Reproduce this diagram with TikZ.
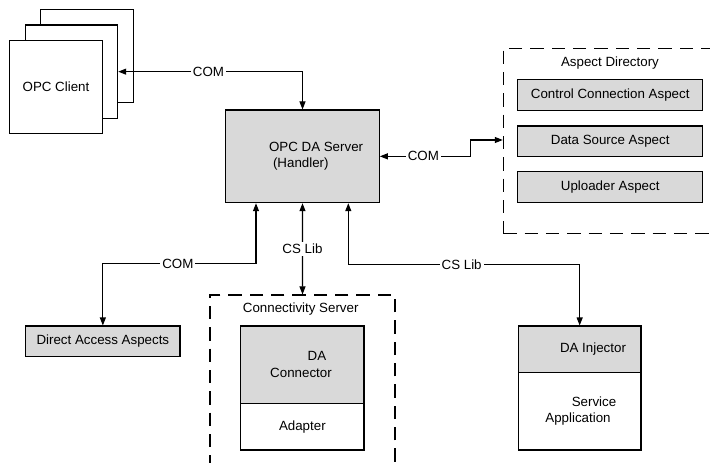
\documentclass[tikz,border=0pt]{standalone}
\usepackage{fontspec}
\setmainfont{Liberation Sans}
\usetikzlibrary{arrows.meta,fit,calc}
\begin{document}
\begin{tikzpicture}[x=0.75pt,y=-0.75pt,
  font=\fontsize{10}{12}\selectfont,
  line width=0.8pt,
  box/.style={draw, fill=white, inner sep=0pt},
  shaded/.style={draw, fill=gray!30, inner sep=0pt},
  group/.style={draw, dash pattern=on 10pt off 6pt, inner sep=0pt},
  link/.style={{Triangle[length=6pt,width=4.5pt]}-{Triangle[length=6pt,width=4.5pt]}},
  tag/.style={fill=white, inner sep=1.5pt},
  txt/.style={inner sep=0pt, align=left}]
\clip (0,0) rectangle (710,463);

% stacked OPC clients
\node[box, fit={(40.7,9.3) (133.3,102.7)}] (client3) {};
\node[box, fit={(25.3,25) (117.7,118.3)}] (client2) {};
\node[box, fit={(9.3,40.7) (102.7,133.3)}] (client) {};
\node[txt] at (client.center) {OPC Client};

% OPC DA server
\node[shaded, fit={(225.7,110) (379.3,202.7)}] (srv) {};
\node[txt, anchor=west] at (268.5,156) {OPC DA Server\\\hspace*{3pt}(Handler)};

% aspect directory
\node[group, fit={(503.3,48.3) (740,233.8)}] (aspdir) {};
\node[txt] at (610,63.3) {Aspect Directory};
\node[shaded, fit={(517.7,79.3) (702.7,110.7)}] (ctrl) {};
\node[txt] at (ctrl.center) {Control Connection Aspect};
\node[shaded, fit={(517.7,126) (702.7,156.7)}] (dsrc) {};
\node[txt] at (dsrc.center) {Data Source Aspect};
\node[shaded, fit={(517.7,171.7) (702.7,202.7)}] (upl) {};
\node[txt] at (upl.center) {Uploader Aspect};

% direct access aspects
\node[shaded, fit={(25.7,326) (180,356.7)}] (daa) {};
\node[txt] at (daa.center) {Direct Access Aspects};

% connectivity server
\node[group, fit={(210,295) (395,490)}] (cs) {};
\node[txt] at (300.7,309.3) {Connectivity Server};
\node[shaded, fit={(240.7,326) (364,403.3)}] (dacon) {};
\node[txt] at (317,356) {DA};
\node[txt] at (301,372.7) {Connector};
\node[box, fit={(240.7,403.3) (364,450)}] (adapter) {};
\node[txt] at (adapter.center) {Adapter};

% service application with DA injector
\node[shaded, fit={(518.3,326) (641,372.7)}] (inj) {};
\node[txt] at (593,349.3) {DA Injector};
\node[box, fit={(518.3,372.7) (641,450)}] (svc) {};
\node[txt] at (594,401.7) {Service};
\node[txt] at (578,419) {Application};

% connectors
\coordinate (adin) at (aspdir.west |- 0,140);
\draw[link] (client2.east) -| (srv.north) node[tag, pos=0.245] {COM};
\draw[link] (srv.east) -- ++(90.7,0) node[tag, pos=0.48] {COM} |- (adin);
\draw[link] ($(srv.south)+(-46.5,0)$) -- ++(0,60.6) -| (daa.north) node[tag, pos=0.255] {COM};
\draw[link] (srv.south) -- (cs.north) node[tag, midway] {CS Lib};
\draw[link] ($(srv.south)+(45.8,0)$) -- ++(0,61.6) -| (inj.north) node[tag, pos=0.245] {CS Lib};
\end{tikzpicture}
\end{document}
